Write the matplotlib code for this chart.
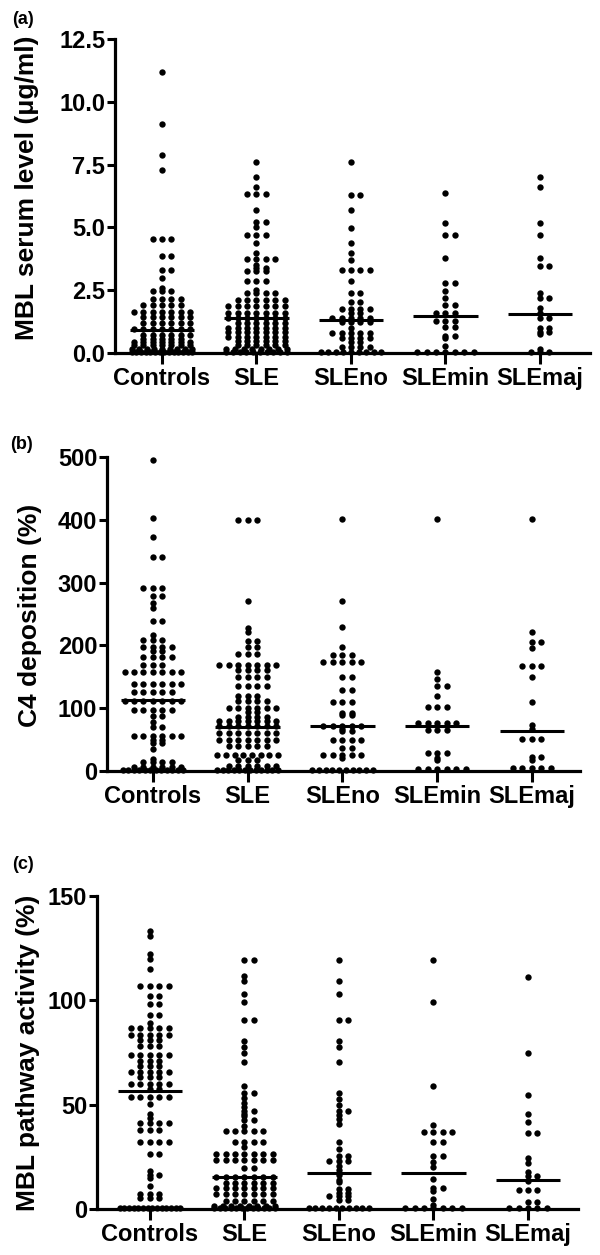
import matplotlib
matplotlib.use("Agg")
import matplotlib.pyplot as plt
import numpy as np

plt.rcParams["font.family"] = ["Liberation Sans", "DejaVu Sans"]
plt.rcParams["font.weight"] = "bold"

GROUPS = ["Controls", "SLE", "SLEno", "SLEmin", "SLEmaj"]

# (a) MBL serum level, ug/ml
mbl_controls = ([11.2, 9.1, 7.9, 7.3] + [4.55] * 3 + [3.85] * 2 + [3.3] * 2
                + [3.0, 2.6] + [2.45] * 3 + [2.15] * 4 + [1.9] * 5 + [1.65] * 7
                + [1.45] * 6 + [1.2] * 6 + [0.95] * 7 + [0.72] * 6 + [0.55] * 5
                + [0.42] * 7 + [0.3] * 7 + [0.18] * 9 + [0.05] * 14)
mbl_sle = ([7.6, 7.0, 6.6] + [6.35] * 3 + [5.7] + [5.2] * 2 + [5.0] + [4.7] * 3
           + [4.4, 4.0] + [3.75] * 4 + [3.5] + [3.4] * 2 + [3.25] * 3 + [2.85] * 3
           + [2.5] + [2.4] * 4 + [2.1] * 6 + [1.87] * 7 + [1.6] * 7 + [1.4] * 7
           + [1.2] * 6 + [1.0] * 7 + [0.85] * 7 + [0.65] * 7 + [0.48] * 6
           + [0.3] * 6 + [0.15] * 8 + [0.04] * 10)
mbl_sleno = ([7.6] + [6.3] * 2 + [5.68, 4.98, 4.37, 4.0, 3.69] + [3.3] * 4 + [2.88]
             + [2.38] * 2 + [2.03] * 2 + [1.77] * 4 + [1.6] * 2 + [1.41] * 5
             + [1.22] * 4 + [1.0] + [0.8] * 5 + [0.6] * 4 + [0.45] * 2 + [0.25] * 4
             + [0.05] * 9)
mbl_slemin = ([6.39, 5.19] + [4.7] * 2 + [3.8] + [2.8] * 2 + [2.48, 2.2] + [1.91] * 2
              + [1.6] * 3 + [1.29] * 3 + [1.04] * 2 + [0.68] * 2 + [0.6, 0.28]
              + [0.05] * 7)
mbl_slemaj = ([7.0, 6.6, 5.19, 4.69, 3.8] + [3.45] * 2 + [2.38] + [2.19] * 2
              + [1.78, 1.6] + [1.38] * 2 + [0.98] * 2 + [0.85] * 2 + [0.75, 0.16]
              + [0.05] * 3)
mbl_medians = [0.9, 1.4, 1.3, 1.47, 1.57]

# (b) C4 deposition, %
c4_controls = ([495, 402, 372] + [341] * 2 + [291] * 3 + [279] * 2 + [268, 260]
               + [238] * 2 + [216] + [208] * 3 + [198] * 4 + [191] * 2 + [181] * 4
               + [168] * 3 + [158] * 7 + [139] * 6 + [125] * 5 + [112] * 7 + [97] * 5
               + [88] * 2 + [78] + [70] * 2 + [55] * 6 + [50] * 2 + [44] * 2 + [35, 19]
               + [14] * 4 + [7] * 6 + [2] * 12)
c4_sle = ([400] * 3 + [271, 228, 222] + [207] * 2 + [197] * 2 + [186] * 3 + [169] * 7
          + [160] * 4 + [150] * 4 + [135] * 4 + [119] * 3 + [111] * 4 + [101] * 6
          + [94] * 2 + [86] * 4 + [80] * 7 + [72] * 7 + [60] * 7 + [49] * 7 + [39] * 5
          + [25] * 8 + [17] * 3 + [8] * 6 + [2] * 12)
c4_sleno = ([401, 271, 230, 198] + [184] * 3 + [173] * 5 + [150] * 2 + [129] * 2
            + [110] * 3 + [93] * 2 + [89] * 2 + [72] * 5 + [67] + [63] * 2 + [49] * 4
            + [37] * 2 + [25] * 5 + [20] + [2] * 10)
c4_slemin = ([401, 158, 147] + [135] * 2 + [120] + [102] * 3 + [76] * 5 + [65] * 3
             + [29] * 3 + [20, 17] + [3] * 6)
c4_slemaj = ([401, 222] + [206] * 2 + [196] + [167] * 3 + [150, 110, 73, 66]
             + [51] * 3 + [23] * 2 + [17] + [5] * 5)
c4_medians = [113, 70.6, 71.6, 71, 64]

# (c) MBL pathway activity, %
act_controls = ([133, 131, 122, 120, 115] + [107] * 4 + [102] * 2 + [98] * 2 + [93] * 2
                + [89] + [86.5] * 5 + [83.5] * 5 + [81] * 3 + [78] * 3 + [74] * 5
                + [71] * 3 + [68.5] * 3 + [65.5] * 5 + [63] * 3 + [60] * 5 + [57.5] * 2
                + [53.5] * 5 + [50.5, 45.5, 43.5] + [41] * 4 + [38] * 3 + [32] * 4
                + [26.5] * 2 + [18] + [16.5] * 2 + [15, 11] + [7.3] * 3 + [5.3] * 3
                + [0.5] * 14)
act_sle = ([119.3] * 2 + [111.7, 109, 103, 99.4] + [90.5] * 2 + [80.7, 77.5, 74.6, 70.6, 59]
           + [55.6] * 2 + [53.4, 50.7, 48.8] + [46.7] * 2 + [45.5, 44.4] + [42.5] * 2
           + [39.7] + [37.3] * 5 + [32] * 4 + [29.7] + [26.2] * 7 + [23.5] * 7
           + [19.8] * 2 + [15.5] * 7 + [12.5] * 6 + [10] * 7 + [7] * 7 + [4] * 6
           + [1.5] * 8 + [0.3] * 12)
act_sleno = ([119.3, 109, 102.9] + [90.5] * 2 + [80.7, 77.6, 70.6, 55.4, 52.6, 49.7]
             + [47] * 2 + [45, 43.1, 40.6, 32.3, 28.8] + [25.4] * 2 + [23] * 3
             + [20.8, 18.7, 16.3, 14, 12.7] + [9.6] * 2 + [7.5] * 2 + [6] * 3 + [4.3] * 2
             + [0.3] * 10)
act_slemin = ([119.3, 99.4, 59.1, 40.3] + [37] * 4 + [32] * 2 + [25.4] * 2
              + [22.6, 19.9, 14.4] + [9.8] * 2 + [8.4, 4.8, 1.9] + [0.3] * 7)
act_slemaj = ([111.3, 74.6, 54.6, 45.5, 41.5] + [36.3] * 2 + [24.6, 22.2, 17.9]
              + [15.8] * 2 + [13.2] + [9.3] * 3 + [3.2] * 2 + [0.3] * 5)
act_medians = [56.5, 15.5, 17.1, 17.1, 13.9]


def swarm_offsets(values, dx=0.1, max_half=0.32):
    """Prism-like column layout: equal values share one row."""
    values = np.asarray(values, float)
    xs = np.zeros(len(values))
    order = [0, 1, -1, 2, -2, 3, -3]
    for v in np.unique(values):
        idx = np.where(values == v)[0]
        n = len(idx)
        if n <= len(order):
            offs = np.array(order[:n]) * dx
        else:
            offs = np.linspace(-max_half, max_half, n)
        xs[idx] = offs
    return xs


def draw_panel(ax, data, medians, xlim, ylim, yticks, yticklabels, ylabel, label_xy):
    for i, vals in enumerate(data):
        x = i + swarm_offsets(vals)
        ax.scatter(x, vals, s=21, color="k", linewidths=0, zorder=3, clip_on=False)
        ax.plot([i - 0.34, i + 0.34], [medians[i]] * 2, color="k", lw=2.2,
                zorder=4, solid_capstyle="butt", clip_on=False)
    ax.set_xlim(*xlim)
    ax.set_ylim(*ylim)
    ax.set_xticks(range(len(GROUPS)))
    ax.set_xticklabels(GROUPS)
    ax.set_yticks(yticks)
    ax.set_yticklabels(yticklabels)
    ax.set_ylabel(ylabel, fontsize=19, fontweight="bold")
    ax.yaxis.set_label_coords(*label_xy)
    for side in ["top", "right"]:
        ax.spines[side].set_visible(False)
    for side in ["left", "bottom"]:
        ax.spines[side].set_linewidth(2.3)
    ax.tick_params(axis="y", length=6, width=2.2, labelsize=17, pad=1)
    ax.tick_params(axis="x", length=8, width=2.2, labelsize=17, pad=2)


fig = plt.figure(figsize=(6, 12.55), dpi=100)

ax_a = fig.add_axes([0.1917, 0.7187, 0.7917, 0.2502])
draw_panel(ax_a, [mbl_controls, mbl_sle, mbl_sleno, mbl_slemin, mbl_slemaj],
           mbl_medians, (-0.497, 4.53), (0, 12.5),
           [0, 2.5, 5.0, 7.5, 10.0, 12.5],
           ["0.0", "2.5", "5.0", "7.5", "10.0", "12.5"],
           "MBL serum level (\u03bcg/ml)", (-0.159, 0.525))

ax_b = fig.add_axes([0.1783, 0.3857, 0.7883, 0.2502])
draw_panel(ax_b, [c4_controls, c4_sle, c4_sleno, c4_slemin, c4_slemaj],
           c4_medians, (-0.485, 4.507), (0, 500),
           [0, 100, 200, 300, 400, 500],
           ["0", "100", "200", "300", "400", "500"],
           "C4 deposition (%)", (-0.137, 0.497))

ax_c = fig.add_axes([0.1617, 0.0367, 0.8017, 0.2494])
draw_panel(ax_c, [act_controls, act_sle, act_sleno, act_slemin, act_slemaj],
           act_medians, (-0.56, 4.53), (0, 150),
           [0, 50, 100, 150], ["0", "50", "100", "150"],
           "MBL pathway activity (%)", (-0.1185, 0.498))

fig.text(12 / 600, 1 - 11 / 1255, "(a)", fontsize=13, fontweight="bold", va="top")
fig.text(10 / 600, 1 - 436 / 1255, "(b)", fontsize=13, fontweight="bold", va="top")
fig.text(12 / 600, 1 - 856 / 1255, "(c)", fontsize=13, fontweight="bold", va="top")

fig.savefig("out.png", dpi=100)
